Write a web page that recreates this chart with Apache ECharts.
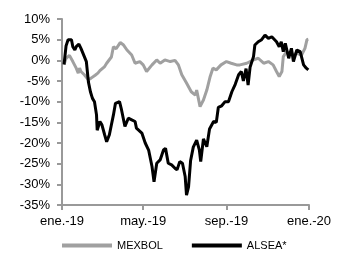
<!DOCTYPE html>
<html>
<head>
<meta charset="utf-8">
<script src="https://cdn.jsdelivr.net/npm/echarts@6/dist/echarts.min.js"></script>
<style>
  html, body { margin: 0; padding: 0; background: #fff; }
  #chart { width: 344px; height: 259px; }
</style>
</head>
<body>
<div id="chart"></div>
<script>
// values, % change since start of 2019
let mexDates = ['2019-01-04','2019-01-07','2019-01-12','2019-01-17','2019-01-22','2019-01-25','2019-01-27','2019-01-29',
    '2019-02-03','2019-02-09','2019-02-13','2019-02-19','2019-02-23','2019-02-26','2019-03-05','2019-03-08','2019-03-15',
    '2019-03-18','2019-03-22','2019-03-28','2019-04-02','2019-04-07','2019-04-14','2019-04-19','2019-04-26','2019-05-01',
    '2019-05-06','2019-05-14','2019-05-21','2019-05-26','2019-06-02','2019-06-10','2019-06-17','2019-06-22','2019-06-27',
    '2019-07-04','2019-07-11','2019-07-17','2019-07-19','2019-07-24','2019-07-29','2019-08-03','2019-08-08','2019-08-12',
    '2019-08-17','2019-08-24','2019-09-01','2019-09-08','2019-09-16','2019-09-21','2019-10-01','2019-10-11','2019-10-18',
    '2019-10-26','2019-11-02','2019-11-09','2019-11-14','2019-11-18','2019-11-22','2019-11-24','2019-11-29','2019-12-07',
    '2019-12-14','2019-12-21','2019-12-26','2019-12-29','2019-12-31']
let mexValues = [-1.0, 0.5, 1.2, -0.3, -1.9, -3.1, -1.9, -2.7,
    -3.5, -4.7, -4.3, -3.6, -3.1, -2.5, -1.5, -0.7, 0.8,
    3.3, 2.8, 4.3, 3.7, 2.5, 1.3, -0.7, -0.3, -1.1,
    -2.7, -1.1, 0.1, -0.7, 0.1, -0.3, 0.0, -1.1, -3.5,
    -5.5, -7.6, -8.4, -7.2, -11.2, -9.6, -7.2, -3.9, -1.9,
    -2.3, -1.1, -0.3, -0.7, -1.1, -1.1, -0.7, 0.1, 0.5,
    -0.7, -0.3, -1.1, -2.7, -3.9, -2.7, 0.9, 2.1, 1.3,
    1.7, 1.3, 2.9, 5.0, 5.1]

let alseaDates = ['2019-01-04','2019-01-07','2019-01-10','2019-01-15','2019-01-17','2019-01-20','2019-01-22','2019-01-26',
    '2019-01-29','2019-02-03','2019-02-06','2019-02-09','2019-02-12','2019-02-15','2019-02-18','2019-02-21','2019-02-22',
    '2019-02-26','2019-03-01','2019-03-05','2019-03-08','2019-03-12','2019-03-15','2019-03-18','2019-03-21','2019-03-23',
    '2019-03-27','2019-03-30','2019-04-04','2019-04-09','2019-04-14','2019-04-19','2019-04-21','2019-04-29','2019-05-04',
    '2019-05-09','2019-05-14','2019-05-17','2019-05-21','2019-05-26','2019-05-31','2019-06-03','2019-06-07','2019-06-12',
    '2019-06-17','2019-06-20','2019-06-24','2019-06-28','2019-07-02','2019-07-04','2019-07-07','2019-07-10','2019-07-14',
    '2019-07-19','2019-07-23','2019-07-25','2019-07-29','2019-08-03','2019-08-07','2019-08-13','2019-08-17','2019-08-20',
    '2019-08-25','2019-08-30','2019-09-04','2019-09-09','2019-09-14','2019-09-19','2019-09-23','2019-09-26','2019-09-30',
    '2019-10-03','2019-10-06','2019-10-11','2019-10-13','2019-10-18','2019-10-23','2019-10-28','2019-11-02','2019-11-07',
    '2019-11-09','2019-11-14','2019-11-18','2019-11-21','2019-11-24','2019-11-27','2019-12-02','2019-12-06','2019-12-09',
    '2019-12-14','2019-12-19','2019-12-24','2019-12-28','2019-12-31']
let alseaValues = [-1.0, 3.5, 5.0, 5.0, 3.3, 2.5, 3.3, 3.9,
    2.9, 0.9, -0.3, -5.2, -7.6, -9.2, -10.0, -13.2, -16.9,
    -14.8, -15.6, -18.0, -19.7, -18.0, -15.6, -13.2, -10.4, -10.4,
    -10.0, -12.0, -16.0, -14.0, -14.4, -14.8, -16.4, -17.6, -20.0,
    -21.7, -25.7, -29.4, -24.9, -24.1, -21.7, -21.3, -24.9, -25.3,
    -26.1, -26.5, -24.5, -24.9, -28.1, -32.6, -30.6, -24.3, -21.0,
    -19.3, -21.7, -24.5, -19.0, -20.9, -16.6, -14.8, -15.0, -11.4,
    -11.0, -10.0, -10.0, -7.6, -5.8, -3.5, -2.7, -5.0, -2.0,
    -6.0, -1.6, 0.9, 3.7, 4.5, 5.0, 6.1, 5.3, 5.7,
    6.1, 4.5, 3.3, 4.5, 2.1, 4.1, 0.5, 2.9, -0.3,
    2.5, 2.1, -1.1, -1.9, -2.3]

let tickDays = [0, 120, 243, 365]
let tickLabels = ['ene.-19', 'may.-19', 'sep.-19', 'ene.-20']

let chart = echarts.init(document.getElementById('chart'))
let font = 'Liberation Sans, Arial, sans-serif'
let day0 = Date.parse('2019-01-01')

function toDay(d) {
    return Math.round((Date.parse(d) - day0) / 86400000)
}

function pairs(dates, values) {
    return dates.map((d, i) => [toDay(d), values[i]])
}

let option = {
    animation: false,
    grid: {left: 62, right: 35, top: 19, bottom: 54},
    legend: {
        left: 62,
        top: 240,
        padding: 0,
        icon: 'rect',
        itemWidth: 50,
        itemHeight: 4,
        itemGap: 29,
        textStyle: {fontFamily: font, fontSize: 11, color: '#000'},
        data: ['MEXBOL', 'ALSEA*']
    },
    xAxis: {
        type: 'value',
        min: 0,
        max: 365,
        splitLine: {show: false},
        axisLine: {onZero: false, lineStyle: {color: '#999', width: 2}},
        axisTick: {show: true, length: 5, customValues: tickDays, lineStyle: {color: '#999', width: 2}},
        axisLabel: {
            customValues: tickDays,
            margin: 10,
            fontFamily: font,
            fontSize: 13,
            color: '#000',
            formatter: v => tickLabels[tickDays.indexOf(v)]
        }
    },
    yAxis: {
        type: 'value',
        min: -35,
        max: 10,
        interval: 5,
        splitLine: {show: false},
        axisLine: {show: true, onZero: false, lineStyle: {color: '#999', width: 2}},
        axisTick: {show: true, length: 5, lineStyle: {color: '#999', width: 2}},
        axisLabel: {margin: 12, fontFamily: font, fontSize: 13, color: '#000', formatter: '{value}%'}
    },
    series: [
        {
            name: 'MEXBOL',
            type: 'line',
            data: pairs(mexDates, mexValues),
            symbol: 'none',
            color: '#a0a0a0',
            lineStyle: {color: '#a0a0a0', width: 3}
        },
        {
            name: 'ALSEA*',
            type: 'line',
            data: pairs(alseaDates, alseaValues),
            symbol: 'none',
            color: '#000',
            lineStyle: {color: '#000', width: 3}
        }
    ]
}

chart.setOption(option)
</script>
</body>
</html>
